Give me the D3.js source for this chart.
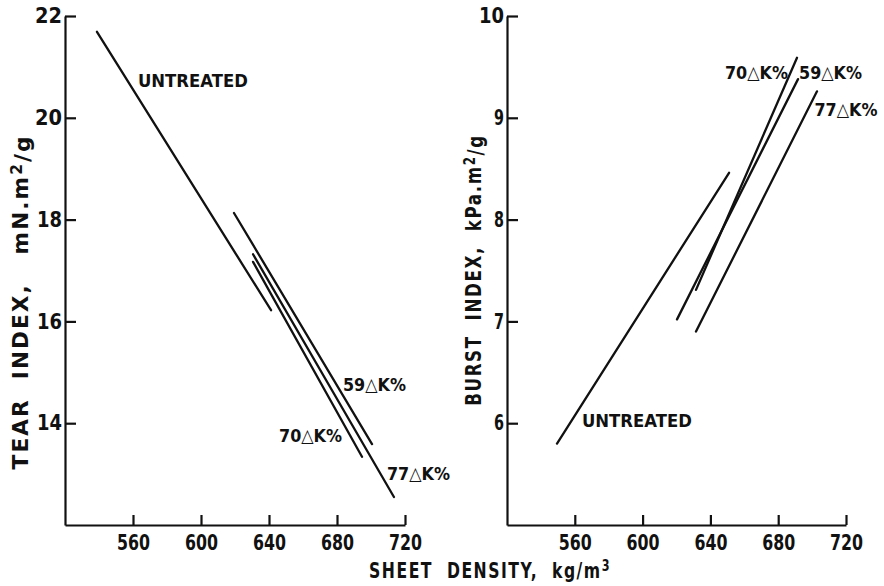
<!DOCTYPE html>
<html>
<head>
<meta charset="utf-8">
<script src="https://cdn.jsdelivr.net/npm/d3@7"></script>
<style>
  body { margin:0; background:#fff; }
  svg text { font-family:"DejaVu Sans","Liberation Sans",sans-serif; font-weight:bold; fill:#111; }
</style>
</head>
<body>
<svg id="chart" width="884" height="586"></svg>
<script>
// --- data ---
const densityTicks = [560, 600, 640, 680, 720];
const tearTicks = [14, 16, 18, 20, 22];
const burstTicks = [6, 7, 8, 9, 10];

const series = ["UNTREATED", "59△K%", "70△K%", "77△K%"];

// tear index lines: [start, end] density and tear
const tearDensity = [[538.8, 641.2], [619.4, 700.6], [630.6, 694.7], [630.6, 713.5]];
const tearValue   = [[21.69, 16.22], [18.13, 13.59], [17.17, 13.34], [17.32, 12.55]];

// burst index lines
const burstDensity = [[549.5, 651.0], [620.3, 691.7], [631.5, 691.1], [631.5, 702.9]];
const burstValue   = [[5.80, 8.46], [7.02, 9.38], [7.31, 9.59], [6.90, 9.26]];

// label anchors in data units (left edge, middle)
const tearLabelAt  = [[562.9, 20.74], [683.5, 14.77], [645.9, 13.77], [709.4, 13.02]];
const burstLabelAt = [[564.2, 6.03], [692.3, 9.45], [648.6, 9.45], [701.4, 9.08]];

const svg = d3.select("#chart");

// squeeze text to a width (the original uses a condensed face)
function squeeze(sel, w){
  sel.attr("textLength", w).attr("lengthAdjust","spacingAndGlyphs");
}

// squeeze a text with a scale transform so its box really is that wide
function fitText(t, cx, cy, rot, target){
  const w = t.node().getBBox().width;
  t.attr("transform",`translate(${cx},${cy}) rotate(${rot}) scale(${target/w},1)`);
}

function panel(opts){
  const x = d3.scaleLinear().domain([520, 720]).range(opts.xr);
  const y = d3.scaleLinear().domain(opts.yd).range([525, 16]);
  const g = svg.append("g");

  // axes
  const ax = g.append("g").attr("transform","translate(0,525)")
    .call(d3.axisBottom(x).tickValues(densityTicks).tickSize(-10).tickSizeOuter(0).tickPadding(10));
  const ay = g.append("g").attr("transform",`translate(${opts.xr[0]},0)`)
    .call(d3.axisLeft(y).tickValues(opts.ticks).tickFormat(d3.format("d"))
      .tickSize(-11).tickSizeOuter(0).tickPadding(3));
  [ax, ay].forEach(a=>{
    a.selectAll("path,line").attr("stroke","#111").attr("stroke-width",2.2);
    a.selectAll("text").attr("font-size",21).attr("fill","#111")
      .attr("font-family",null);
  });
  ax.selectAll("text").each(function(){ squeeze(d3.select(this), 33); });
  ay.selectAll("text").each(function(d){
    squeeze(d3.select(this), String(d).length === 1 ? 10 : (String(d)[0] === "1" ? 25 : 27));
  });

  // lines
  opts.dens.forEach((d,i)=>{
    g.append("line")
      .attr("x1", x(d[0])).attr("y1", y(opts.vals[i][0]))
      .attr("x2", x(d[1])).attr("y2", y(opts.vals[i][1]))
      .attr("stroke","#111").attr("stroke-width",2.3).attr("stroke-linecap","round");
  });

  // labels
  opts.labels.forEach((p,i)=>{
    const t = g.append("text")
      .attr("dy","0.36em").attr("font-size",18.5)
      .text(series[i]);
    fitText(t, x(p[0]), y(p[1]), 0, i === 0 ? 110 : 63);
  });

  // y title
  const t = g.append("text")
    .attr("text-anchor","middle").attr("dy","0.36em")
    .attr("font-size",21).style("letter-spacing","2px").style("white-space","pre");
  t.append("tspan").text(opts.title);
  t.append("tspan").attr("dy","-0.4em").attr("font-size",15).text("2");
  t.append("tspan").attr("dy","0.4em").text("/g");
  fitText(t, opts.titleX, opts.titleY, -90, opts.titleLen);
  return g;
}

panel({xr:[65,405], yd:[12,22], ticks:tearTicks, dens:tearDensity, vals:tearValue,
  labels:tearLabelAt, title:"TEAR  INDEX,   mN.m", titleX:20, titleY:302, titleLen:335});
panel({xr:[507,846], yd:[5,10], ticks:burstTicks, dens:burstDensity, vals:burstValue,
  labels:burstLabelAt, title:"BURST  INDEX,  kPa.m", titleX:473, titleY:270, titleLen:272});

// shared x title
const xt = svg.append("text").attr("text-anchor","middle").attr("dy","0.36em")
  .attr("font-size",21).style("letter-spacing","2px").style("white-space","pre");
xt.append("tspan").text("SHEET  DENSITY,  kg/m");
xt.append("tspan").attr("dy","-0.45em").attr("font-size",15).text("3");
fitText(xt, 490, 570, 0, 242);
</script>
</body>
</html>
